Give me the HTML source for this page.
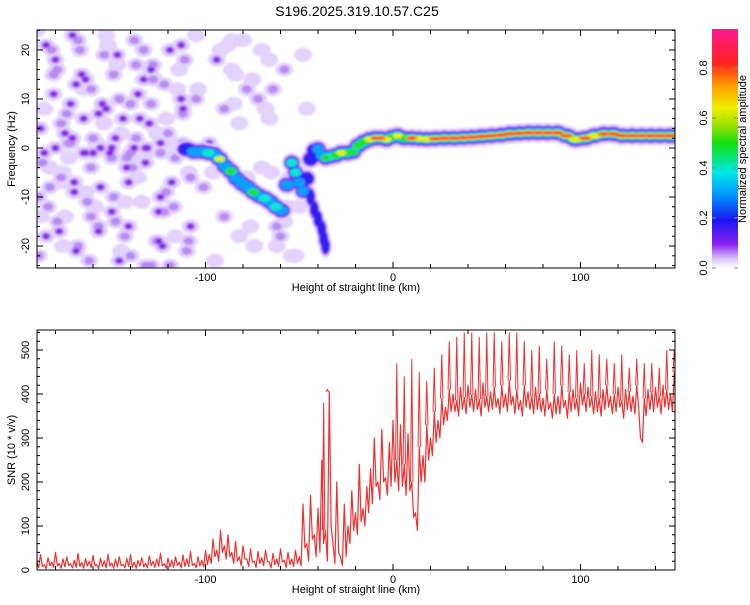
<!DOCTYPE html>
<html><head><meta charset="utf-8"><style>
body{margin:0;background:#fff;width:750px;height:600px;overflow:hidden;font-family:"Liberation Sans",sans-serif}
svg text{font-family:"Liberation Sans",sans-serif;fill:#000}
</style></head><body>
<svg id="c" width="750" height="600" xmlns="http://www.w3.org/2000/svg">
<defs>
<linearGradient id="cb" x1="0" y1="1" x2="0" y2="0">
<stop offset="0" stop-color="#ffffff"/><stop offset="0.04" stop-color="#d8c0ff"/><stop offset="0.1" stop-color="#8a20f0"/>
<stop offset="0.2" stop-color="#1818f0"/><stop offset="0.3" stop-color="#0090ff"/><stop offset="0.4" stop-color="#00e8e8"/>
<stop offset="0.52" stop-color="#10e010"/><stop offset="0.6" stop-color="#a0e000"/><stop offset="0.67" stop-color="#f0f000"/>
<stop offset="0.76" stop-color="#ffa000"/><stop offset="0.86" stop-color="#ff2020"/><stop offset="1" stop-color="#ff1a90"/>
</linearGradient>
<filter id="bl"><feGaussianBlur stdDeviation="1"/></filter>
<clipPath id="cp1"><rect x="37" y="30" width="638" height="238"/></clipPath>
<clipPath id="cp2"><rect x="37" y="330" width="638" height="240"/></clipPath>
</defs>
<text x="357" y="16" font-size="14" text-anchor="middle">S196.2025.319.10.57.C25</text>
<g id="topPanel"></g>
<g id="botPanel"></g>
<g id="cbar"></g>
</svg>
<script>
// ---- data ----
const xTicksMajor=[-100,0,100];
const freqTicks=[-20,-10,0,10,20];
const snrTicks=[0,100,200,300,400,500];
const cbTicks=[0.0,0.2,0.4,0.6,0.8];
const ridgeX=[-112,-108,-104,-100,-97,-94,-91,-88,-85,-82,-79,-76,-73,-70,-67,-64,-61,-58,-55,-53,-51,-49,-47,-45,-43,-41,-39,-37,-35,-32,-29,-26,-23,-20,-17,-14,-11,-8,-5,-2,1,4,8,12,16,20,25,30,35,40,45,50,55,60,65,70,75,80,85,90,95,100,105,110,115,120,125,130,135,140,145,150];
const ridgeF=[0,-0.5,-1,-0.5,-1.5,-1,-3.5,-4,-5.5,-7,-7.5,-8.5,-9.5,-10,-10.5,-11.5,-12.5,-13,-2,-4,-6,-8,-9.5,-3,-1.5,0.5,-1,-2,-2,-1.5,-1.5,-0.5,-1.5,0,1,1.5,2,2,2,1.5,3,2,2,2,1.8,1.8,2,2,2,2.2,2.2,2.5,2.5,2.8,3,3,3.2,3,3.2,3,2,1.5,2.5,2.5,3.2,2.5,2.5,2.5,2.5,2.5,2.5,2.5];
const ridgeA=[0.2,0.3,0.35,0.4,0.3,0.65,0.3,0.6,0.3,0.35,0.3,0.55,0.3,0.45,0.3,0.4,0.35,0.3,0.45,0.4,0.35,0.3,0.25,0.2,0.25,0.35,0.35,0.5,0.45,0.5,0.65,0.55,0.55,0.6,0.6,0.7,0.88,0.88,0.7,0.6,0.7,0.6,0.75,0.7,0.65,0.85,0.8,0.75,0.75,0.8,0.85,0.8,0.8,0.85,0.9,0.85,0.8,0.9,0.8,0.85,0.7,0.85,0.7,0.8,0.75,0.8,0.85,0.85,0.8,0.8,0.8,0.8];
const branchX=[-44,-42,-40,-38,-37,-36];
const branchF=[-10,-12.5,-14.5,-16.5,-18.5,-20];
const noiseX=[-188,-184,-180,-176,-172,-168,-164,-160,-156,-152,-148,-144,-140,-136,-132,-128,-124,-120,-116,-112,-108,-104,-186,-182,-178,-174,-170,-166,-162,-158,-154,-150,-146,-142,-138,-134,-130,-126,-122,-118,-114,-110,-189,-181,-173,-165,-157,-149,-141,-133,-125,-117,-109,-185,-177,-169,-161,-153,-145,-137,-129,-121,-113,-187,-179,-171,-163,-155,-147,-139,-131,-123,-115,-183,-175,-167,-159,-151,-143,-135,-127,-119,-111,-96,-90,-84,-80,-76,-72,-66,-62,-58,-88,-82,-70,-64,-60,-78,-92,-68,-56,-52,-86,-74,-189,-177,-165,-150,-138,-124,-112,-160,-146,-132,-176,-170,-142,-128];
const noiseF=[4,-12,18,-5,9,-20,14,2,-8,21,-15,6,-22,11,-3,17,-10,3,-18,8,-6,12,-1,20,-17,7,-9,15,-23,1,19,-13,10,-4,22,-11,5,-19,13,-7,16,-21,-10,11,-2,6,-16,15,-7,20,-13,1,-19,21,-6,13,-14,8,-21,2,16,-9,10,-3,-15,23,-11,9,17,-4,0,-20,12,-8,3,20,-12,-1,-18,6,14,-24,18,-5,8,15,22,-16,10,18,-20,-15,21,5,-4,12,-18,-6,20,8,-12,-22,16,-20,-22,5,-1,0,0,-1,1,-1,-23,-24,-20,-7,-2,14,24];
const noiseL=[2,1,2,0,2,1,2,1,2,0,1,2,1,2,2,1,2,1,0,2,1,0,2,1,2,1,2,2,1,0,1,2,1,2,1,0,2,1,1,2,0,1,1,2,0,2,1,1,2,1,2,0,1,2,1,2,1,2,0,1,2,1,2,1,1,2,1,2,0,1,2,2,0,1,2,1,0,2,1,2,0,1,1,0,1,0,0,0,1,0,0,0,0,0,0,1,1,0,0,0,0,0,0,0,1,1,2,2,2,1,2,2,2,1,0,2,1,1,0,0,0];
const noise2X=[-190,-186,-183,-179,-175,-171,-168,-164,-161,-157,-154,-150,-147,-143,-140,-136,-133,-129,-126,-122,-119,-115,-112,-108,-105,-101,
-189,-185,-181,-177,-173,-169,-165,-161,-157,-153,-149,-145,-141,-137,-133,-129,-125,-121,-117,-113,-109,-105,
-188,-180,-172,-164,-156,-148,-140,-132,-124,-116,-108,
-98,-94,-90,-86,-82,-78,-74,-70,-66,-62,-58,-54,-50,-46,-95,-85,-75,-65,-55,-48];
const noise2F=[8,-4,16,-14,2,22,-9,12,-17,5,-2,19,-11,9,-6,14,-24,3,-13,20,-1,7,-16,23,-8,4,
-18,15,-7,1,-21,12,-4,7,23,-10,3,-16,17,-2,9,-19,6,-12,21,-5,10,-14,
0,1,-1,0,2,-1,0,1,-2,0,1,
18,-14,22,-18,12,-20,20,6,-16,16,-22,-12,8,-23,9,14,-5,-6,19,-2];
const noise2L=[1,0,2,1,0,1,2,0,1,2,0,1,0,2,1,0,1,2,0,1,2,0,1,0,2,1,
0,1,2,0,1,2,0,1,0,2,1,0,1,2,0,1,2,0,1,0,2,1,
2,2,2,1,2,2,1,2,2,2,1,
0,0,1,0,0,0,1,1,0,0,0,0,0,0,0,0,0,0,0,0];
const snrStart=-190, snrStep=2;
const snrVals=[20,35,12,28,18,40,15,25,30,14,22,38,17,26,20,33,12,27,21,36,16,24,30,13,26,35,18,22,28,15,32,20,25,38,14,27,22,30,18,34,
25,42,15,30,22,45,35,70,45,90,55,80,40,65,30,55,25,48,20,42,28,45,18,38,25,48,22,40,25,45,30,150,60,170,80,140,250,90,405,60,200,30,150,
100,180,130,240,140,190,230,300,200,320,210,290,340,250,330,240,310,200,130,280,260,330,300,360,340,390,370,410,
400,385,415,392,420,398,410,388,425,395,405,415,390,420,400,430,395,410,385,420,405,395,415,400,390,410,380,400,395,420,385,405,410,390,425,400,415,395,405,390,410,420,395,400,415,385,410,405,395,420,300,390,410,405,415,395,420,410,400,450];
const snrLow=[5,8,3,10,6,9,4,7,10,5,6,8,4,9,6,10,3,8,5,9,4,7,10,5,8,6,4,9,7,5,10,6,8,9,4,7,6,10,5,8,
8,10,5,9,7,12,15,30,20,40,25,30,15,20,10,25,8,18,6,15,10,20,5,12,8,18,6,12,8,15,10,50,20,70,30,40,60,20,100,15,40,10,30,
60,90,80,110,100,130,150,190,160,200,170,190,200,180,190,170,180,120,90,200,200,250,260,290,300,330,340,360,
360,350,365,355,370,360,365,350,370,360,365,370,355,370,360,375,355,365,350,370,365,355,365,360,350,365,345,355,355,370,345,360,365,350,375,360,370,355,360,350,365,370,355,360,370,345,365,360,355,370,290,350,365,360,370,355,370,365,360,380];
const spikeX=[-37,-35,2,6,10,14,18,22,26,30,34,38,42,46,50,54,58,62,66,70,74,78,82,86,90,94,98,102,106,110,114,118,122,126,130,134,138,142,146,150];
const spikeY=[380,410,470,440,480,450,430,460,490,520,530,540,540,530,540,540,520,540,540,520,500,510,480,520,510,490,500,470,500,490,480,470,490,460,480,470,470,460,500,500];

// ---- scales ----
const X0=37,X1=675;
const sx=v=>393+v*1.875;
const sf=v=>148-v*4.9;
const sy=v=>570-v*0.44;
const sc=v=>268-v*250;
const NS='http://www.w3.org/2000/svg';
function mk(tag,parent,attrs){const e=document.createElementNS(NS,tag);for(const k in attrs)e.setAttribute(k,attrs[k]);parent.appendChild(e);return e;}
const levels=[[0,'#e2d2ff',8,10],[0.1,'#9030f0',6,7.5],[0.2,'#2a20f0',4.8,5.8],[0.3,'#0aa0ff',4,4.7],[0.4,'#10e8d0',3.4,3.9],[0.5,'#20e020',2.8,3.1],[0.62,'#f0f000',2.2,2.4],[0.75,'#ff3030',1.8,1.8]];

// ---- top panel ----
const topG=document.getElementById('topPanel');
const tg=mk('g',topG,{'clip-path':'url(#cp1)'});
const ng=mk('g',tg,{filter:'url(#bl)'});
const ncol=['#e2d2fc','#b88af2','#8420e8'];
const nr=[[9,7],[5,4],[3.2,2.8]];
const allNX=noiseX.concat(noise2X), allNF=noiseF.concat(noise2F), allNL=noiseL.concat(noise2L);
const nN=Math.min(allNX.length,allNF.length,allNL.length);
[0,1,2].forEach(L=>{for(let i=0;i<nN;i++){if(allNL[i]<L)continue;
 const e=mk('ellipse',ng,{cx:sx(allNX[i]),cy:sf(allNF[i]),rx:nr[L][0],ry:nr[L][1],fill:ncol[L]});
 
 }});
const rg=mk('g',tg,{filter:'url(#bl)'});
const rN=Math.min(ridgeX.length,ridgeF.length,ridgeA.length);
levels.forEach(([th,col,rx,ry])=>{
 if(th<=0.2){for(let i=0;i<branchX.length;i++){
  const e=mk('ellipse',rg,{cx:sx(branchX[i]),cy:sf(branchF[i]),rx:rx*0.8,ry:ry*1.2,fill:col});
  
  }}
 for(let i=0;i<rN;i++){if(ridgeA[i]<th)continue;
  const last=i>=rN-1;
  const dx=last?0:(sx(ridgeX[i+1])-sx(ridgeX[i]));
  const f2=last?ridgeF[i]:(ridgeF[i]+ridgeF[i+1])/2;
  const e=mk('ellipse',rg,{cx:sx(ridgeX[i])+dx/2,cy:sf(f2),rx:Math.abs(dx)/2+rx,ry:ry,fill:col});
  
  }
});
function frame(g,y0,y1){
 const r=mk('rect',g,{x:X0,y:y0,width:X1-X0,height:y1-y0,fill:'none',stroke:'#000','stroke-width':1});
 
 
 for(let v=-180;v<=150;v+=20){const x=sx(v);const L=xTicksMajor.includes(v)?6:4;
  mk('line',g,{x1:x,x2:x,y1:y1,y2:y1-L,stroke:'#000'});mk('line',g,{x1:x,x2:x,y1:y0,y2:y0+L,stroke:'#000'});}
 xTicksMajor.forEach(v=>{const t=mk('text',g,{x:sx(v),y:y1+13,'font-size':11,'text-anchor':'middle'});t.textContent=v;
  
  });
 const t=mk('text',g,{x:356,y:y1+23,'font-size':11,'text-anchor':'middle'});t.textContent='Height of straight line (km)';
 
 
}
frame(topG,30,268);
for(let v=-24;v<=24;v+=2){const y=sf(v);const L=v%10===0?6:3;mk('line',topG,{x1:X0,x2:X0+L,y1:y,y2:y,stroke:'#000'});mk('line',topG,{x1:X1,x2:X1-L,y1:y,y2:y,stroke:'#000'});}
freqTicks.forEach(v=>{const t=mk('text',topG,{'font-size':11,'text-anchor':'middle',transform:`translate(29,${sf(v)}) rotate(-90)`});t.textContent=v;
 
 });
{const t=mk('text',topG,{'font-size':11,'text-anchor':'middle',transform:'translate(15,149) rotate(-90)'});t.textContent='Frequency (Hz)';
 
 }

// ---- bottom panel ----
const botG=document.getElementById('botPanel');
const bg=mk('g',botG,{'clip-path':'url(#cp2)'});
let d='';const sN=Math.min(snrVals.length,snrLow.length);
for(let i=0;i<sN;i++){const x=sx(snrStart+i*snrStep);
 d+=(i?'L':'M')+x.toFixed(1)+','+sy(snrVals[i]).toFixed(1)+'L'+(x+1.9).toFixed(1)+','+sy(snrLow[i]).toFixed(1);}
const pl=mk('path',bg,{d:d,fill:'none',stroke:'#ee3030','stroke-width':1.2,'stroke-linejoin':'round'});


for(let i=0;i<Math.min(spikeX.length,spikeY.length);i++){const v=spikeX[i];
 const base=snrVals[Math.round((v-snrStart)/snrStep)]||400;
 const p=mk('path',bg,{d:`M${sx(v)-1.2},${sy(base)}L${sx(v)},${sy(spikeY[i])}L${sx(v)+1.2},${sy(base)}`,fill:'none',stroke:'#ee3030','stroke-width':1});
 
 }
frame(botG,330,570);
for(let v=0;v<=540;v+=20){const y=sy(v);const L=v%100===0?6:3;mk('line',botG,{x1:X0,x2:X0+L,y1:y,y2:y,stroke:'#000'});mk('line',botG,{x1:X1,x2:X1-L,y1:y,y2:y,stroke:'#000'});}
snrTicks.forEach(v=>{const t=mk('text',botG,{'font-size':11,'text-anchor':'middle',transform:`translate(29,${sy(v)}) rotate(-90)`});t.textContent=v;
 
 });
{const t=mk('text',botG,{'font-size':11,'text-anchor':'middle',transform:'translate(15,450) rotate(-90)'});t.textContent='SNR (10 * v/v)';
 
 }

// ---- colorbar ----
const cbG=document.getElementById('cbar');
mk('rect',cbG,{x:712,y:29,width:26,height:239,fill:'url(#cb)'});
cbTicks.forEach(v=>{const y=sc(v);mk('line',cbG,{x1:712,x2:716,y1:y,y2:y,stroke:'#888'});mk('line',cbG,{x1:734,x2:738,y1:y,y2:y,stroke:'#888'});
 const t=mk('text',cbG,{'font-size':11,'text-anchor':'middle',transform:`translate(707,${y}) rotate(-90)`});t.textContent=v.toFixed(1);
 
 });
{const t=mk('text',cbG,{'font-size':11,'text-anchor':'middle',transform:'translate(746,149) rotate(-90)'});t.textContent='Normalized spectral amplitude';
 
 }
</script>
</body></html>
